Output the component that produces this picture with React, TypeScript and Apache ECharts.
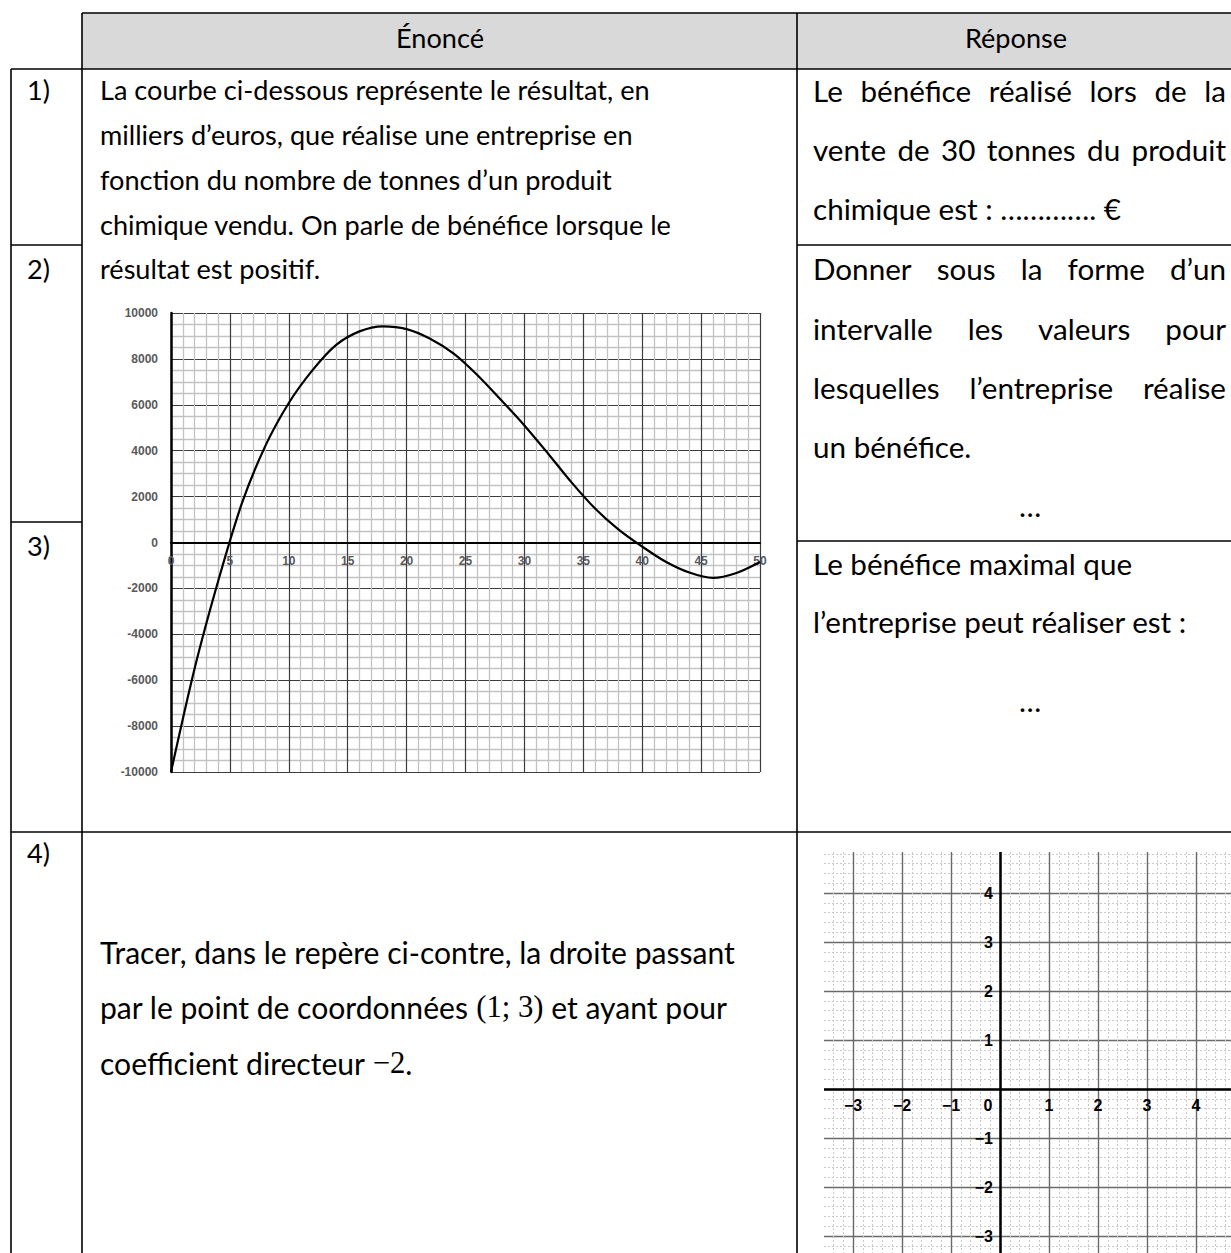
import React, { useEffect, useRef } from 'react';
import * as echarts from 'echarts';

// ---------- Chart 1 data (résultat en fonction des tonnes) ----------
const tonnes = [0, 2, 4, 6, 8, 10, 12, 14, 16, 18, 20, 22, 24, 26, 28, 30, 32, 34, 36, 38, 40, 42, 44, 46, 48, 50];
const resultat = [-10000, -5500, -1690, 1680, 4200, 6080, 7500, 8600, 9200, 9420, 9300, 8880, 8230, 7300, 6220, 5100, 3880, 2620, 1480, 560, -180, -840, -1310, -1545, -1330, -850];
const xTicks1 = [0, 5, 10, 15, 20, 25, 30, 35, 40, 45, 50];
const yTicks1 = [-10000, -8000, -6000, -4000, -2000, 0, 2000, 4000, 6000, 8000, 10000];

// ---------- Chart 2 (repère) ----------
const xTicks2 = [-4, -3, -2, -1, 0, 1, 2, 3, 4, 5];
const yTicks2 = [-4, -3, -2, -1, 0, 1, 2, 3, 4, 5];

// ---------- Texts ----------
const headers = ['Énoncé', 'Réponse'];
const numbers = ['1)', '2)', '3)', '4)'];
const enonceLines = [
  'La courbe ci-dessous représente le résultat, en',
  'milliers d’euros, que réalise une entreprise en',
  'fonction du nombre de tonnes d’un produit',
  'chimique vendu. On parle de bénéfice lorsque le',
  'résultat est positif.',
];
const rep1 = ['Le bénéfice réalisé lors de la', 'vente de 30 tonnes du produit', 'chimique est : …………. €'];
const rep2 = ['Donner sous la forme d’un', 'intervalle les valeurs pour', 'lesquelles l’entreprise réalise', 'un bénéfice.'];
const rep3 = ['Le bénéfice maximal que', 'l’entreprise peut réaliser est :'];
const dots = '…';
const q4 = [
  ['Tracer, dans le repère ci-contre, la droite passant'],
  ['par le point de coordonnées ', '(1; 3)', ' et ayant pour'],
  ['coefficient directeur ', '−2', '.'],
];

const FAM = 'Lato';
const MATH = 'Liberation Serif';

const canvas = document.createElement('canvas');
const ctx = canvas.getContext('2d') as CanvasRenderingContext2D;
function measure(t: string, size: number, fam: string) {
  ctx.font = `${size}px "${fam}"`;
  return ctx.measureText(t).width;
}
function fit(t: string, target: number, fam: string) {
  return (20 * target) / measure(t, 20, fam);
}

function textEl(text: string, x: number, y: number, size: number, align = 'left', fam = FAM): any {
  return {
    type: 'text', z: 100, x, y,
    style: { text, fontSize: size, fontFamily: fam, fill: '#000', align, verticalAlign: 'middle' },
  };
}

function justified(line: string, x0: number, x1: number, y: number, size: number): any[] {
  const words = line.split(' ');
  const ws = words.map((w) => measure(w, size, FAM));
  const total = ws.reduce((a, b) => a + b, 0);
  const gap = (x1 - x0 - total) / (words.length - 1);
  let x = x0;
  return words.map((w, i) => {
    const el = textEl(w, x, y, size);
    x += ws[i] + gap;
    return el;
  });
}

function hline(x1: number, x2: number, y: number): any {
  return { type: 'line', z: 90, shape: { x1, y1: y, x2, y2: y }, style: { stroke: '#000', lineWidth: 1.6 } };
}
function vline(x: number, y1: number, y2: number): any {
  return { type: 'line', z: 90, shape: { x1: x, y1, x2: x, y2 }, style: { stroke: '#000', lineWidth: 1.6 } };
}

export default function App() {
  const ref = useRef<HTMLDivElement>(null);
  useEffect(() => {
    if (!ref.current) return;
    document.documentElement.style.overflow = 'hidden';
    document.body.style.overflow = 'hidden';
    const chart = echarts.init(ref.current, undefined, { renderer: 'svg' });

    const sEn = fit(enonceLines[0], 550, FAM);
    const sRep = fit(rep3[1], 374, FAM);
    const s4 = fit(q4[0][0], 635, FAM);

    const L = 11, C1 = 82, C2 = 797, R = 1231, TOP = 13, HB = 69, B = 1253;
    const graphics: any[] = [];
    graphics.push({ type: 'rect', z: 80, shape: { x: C1, y: TOP, width: R - C1 + 60, height: HB - TOP }, style: { fill: '#d9d9d9' } });
    // cover rects trimming chart 2 to its visible frame
    graphics.push({ type: 'rect', z: 85, shape: { x: C2 + 1.5, y: 833, width: 824 - C2 - 1.5, height: 500 }, style: { fill: '#fff' } });
    graphics.push({ type: 'rect', z: 85, shape: { x: C2 + 1.5, y: 833, width: 500, height: 852 - 833 }, style: { fill: '#fff' } });
    graphics.push({ type: 'rect', z: 85, shape: { x: C2 + 1.5, y: B, width: 600, height: 100 }, style: { fill: '#fff' } });
    graphics.push({ type: 'rect', z: 85, shape: { x: R, y: 0, width: 100, height: 1400 }, style: { fill: '#fff' } });
    // table lines
    graphics.push(hline(C1, R, TOP));
    graphics.push(hline(L, R, HB));
    graphics.push(vline(L, HB, B));
    graphics.push(vline(C1, TOP, B));
    graphics.push(vline(C2, TOP, B));
    graphics.push(hline(L, C1, 245));
    graphics.push(hline(C2, R, 245));
    graphics.push(hline(L, C1, 522));
    graphics.push(hline(C2, R, 541));
    graphics.push(hline(L, R, 832));

    graphics.push(textEl(headers[0], 440, 37, sEn, 'center'));
    graphics.push(textEl(headers[1], 1016, 37, sEn, 'center'));
    const numY = [89, 268, 545, 852];
    numbers.forEach((n, i) => graphics.push(textEl(n, 27, numY[i], sEn)));
    const enY = [89, 134, 179, 224, 268];
    enonceLines.forEach((t, i) => graphics.push(textEl(t, 100, enY[i], sEn)));
    const RX0 = 813, RX1 = 1226;
    const r1Y = [90, 149, 208];
    rep1.forEach((t, i) => {
      if (i < 2) graphics.push(...justified(t, RX0, RX1, r1Y[i], sRep));
      else graphics.push(textEl(t, RX0, r1Y[i], sRep));
    });
    const r2Y = [268, 328, 387, 446];
    rep2.forEach((t, i) => {
      if (i < 3) graphics.push(...justified(t, RX0, RX1, r2Y[i], sRep));
      else graphics.push(textEl(t, RX0, r2Y[i], sRep));
    });
    graphics.push(textEl(dots, 1030, 505, sRep, 'center'));
    const r3Y = [563, 621];
    rep3.forEach((t, i) => graphics.push(textEl(t, RX0, r3Y[i], sRep)));
    graphics.push(textEl(dots, 1030, 700, sRep, 'center'));
    const q4Y = [952, 1007, 1063];
    q4.forEach((parts, i) => {
      let text = '';
      parts.forEach((p, j) => { text += `{${j % 2 === 1 ? 'm' : 't'}|${p}}`; });
      graphics.push({
        type: 'text', z: 100, x: 100, y: q4Y[i],
        style: {
          text, fill: '#000', align: 'left', verticalAlign: 'middle',
          rich: {
            t: { fontSize: s4, fontFamily: FAM, fill: '#000' },
            m: { fontSize: s4 * 1.02, fontFamily: MATH, fill: '#000' },
          },
        },
      });
    });

    const minus = (v: number) => String(v).replace('-', '−');
    const lbl1 = { color: '#595959', fontWeight: 'bold', fontSize: 12, fontFamily: 'Liberation Sans' };
    const lbl2 = { color: '#000', fontWeight: 'bold', fontSize: 16, fontFamily: 'Liberation Sans' };

    const g1 = { left: 171, top: 313, width: 589, height: 459 };
    const g2 = { left: 804, top: 844, width: 441, height: 441 };
    const y1min = yTicks1[0], y1max = yTicks1[yTicks1.length - 1];
    const x2min = xTicks2[0], x2max = xTicks2[xTicks2.length - 1];
    const y2min = yTicks2[0], y2max = yTicks2[yTicks2.length - 1];
    const off1x = -g1.height * (0 - y1min) / (y1max - y1min);
    const off2x = -g2.height * (0 - y2min) / (y2max - y2min);
    const off2y = -g2.width * (0 - x2min) / (x2max - x2min);

    chart.setOption({
      animation: false,
      backgroundColor: '#fff',
      grid: [
        { ...g1, outerBoundsMode: 'none', containLabel: false },
        { ...g2, outerBoundsMode: 'none', containLabel: false },
      ],
      xAxis: [
        {
          gridIndex: 0, type: 'value', position: 'bottom', offset: off1x,
          min: xTicks1[0], max: xTicks1[xTicks1.length - 1], interval: xTicks1[1] - xTicks1[0],
          axisLine: { onZero: false, lineStyle: { color: '#000', width: 2 } },
          axisTick: { show: false },
          axisLabel: { ...lbl1, margin: 12, showMinLabel: true, showMaxLabel: true },
          splitLine: { show: true, lineStyle: { color: '#3c3c3c', width: 1.2 } },
          minorTick: { show: false, splitNumber: 5 },
          minorSplitLine: { show: true, lineStyle: { color: '#c2c2c2', width: 1.3 } },
        },
        {
          gridIndex: 1, type: 'value', position: 'bottom', offset: off2x,
          min: x2min, max: x2max, interval: xTicks2[1] - xTicks2[0],
          axisLine: { onZero: false, lineStyle: { color: '#000', width: 2.5 } },
          axisTick: { show: false },
          axisLabel: {
            ...lbl2, margin: 8,
            formatter: (v: number) => (v === 0 ? '{z|0}' : v < -3 || v > 4 ? '' : minus(v)),
            rich: { z: { ...lbl2, padding: [0, 24, 0, 0] } },
          },
          splitLine: { show: true, lineStyle: { color: '#6a6a6a', width: 1.4 } },
          minorTick: { show: false, splitNumber: 5 },
          minorSplitLine: { show: true, lineStyle: { color: '#cacaca', width: 1, type: [2, 2] } },
        },
      ],
      yAxis: [
        {
          gridIndex: 0, type: 'value', position: 'left',
          min: y1min, max: y1max, interval: yTicks1[1] - yTicks1[0],
          axisLine: { show: true, onZero: false, lineStyle: { color: '#000', width: 2.5 } },
          axisTick: { show: false },
          axisLabel: { ...lbl1, margin: 13, formatter: (v: number) => String(v) },
          splitLine: { show: true, lineStyle: { color: '#3c3c3c', width: 1.2 } },
          minorTick: { show: false, splitNumber: 4 },
          minorSplitLine: { show: true, lineStyle: { color: '#c2c2c2', width: 1.3 } },
        },
        {
          gridIndex: 1, type: 'value', position: 'left', offset: off2y,
          min: y2min, max: y2max, interval: yTicks2[1] - yTicks2[0],
          axisLine: { show: true, onZero: false, lineStyle: { color: '#000', width: 2.5 } },
          axisTick: { show: false },
          axisLabel: {
            ...lbl2, margin: 7,
            formatter: (v: number) => (v === 0 || v < -3 || v > 4 ? '' : minus(v)),
          },
          splitLine: { show: true, lineStyle: { color: '#6a6a6a', width: 1.4 } },
          minorTick: { show: false, splitNumber: 5 },
          minorSplitLine: { show: true, lineStyle: { color: '#cacaca', width: 1, type: [2, 2] } },
        },
      ],
      series: [
        {
          type: 'line', xAxisIndex: 0, yAxisIndex: 0,
          data: tonnes.map((t, i) => [t, resultat[i]]),
          smooth: 0.3, symbol: 'none',
          lineStyle: { color: '#000', width: 2.2 },
          z: 5,
        },
        { type: 'line', xAxisIndex: 1, yAxisIndex: 1, data: [], symbol: 'none' },
      ],
      graphic: graphics,
    });
    return () => chart.dispose();
  }, []);
  return (
    <div
      ref={ref}
      style={{ position: 'fixed', left: 0, top: 0, width: 1320, height: 1340, background: '#fff' }}
    />
  );
}
